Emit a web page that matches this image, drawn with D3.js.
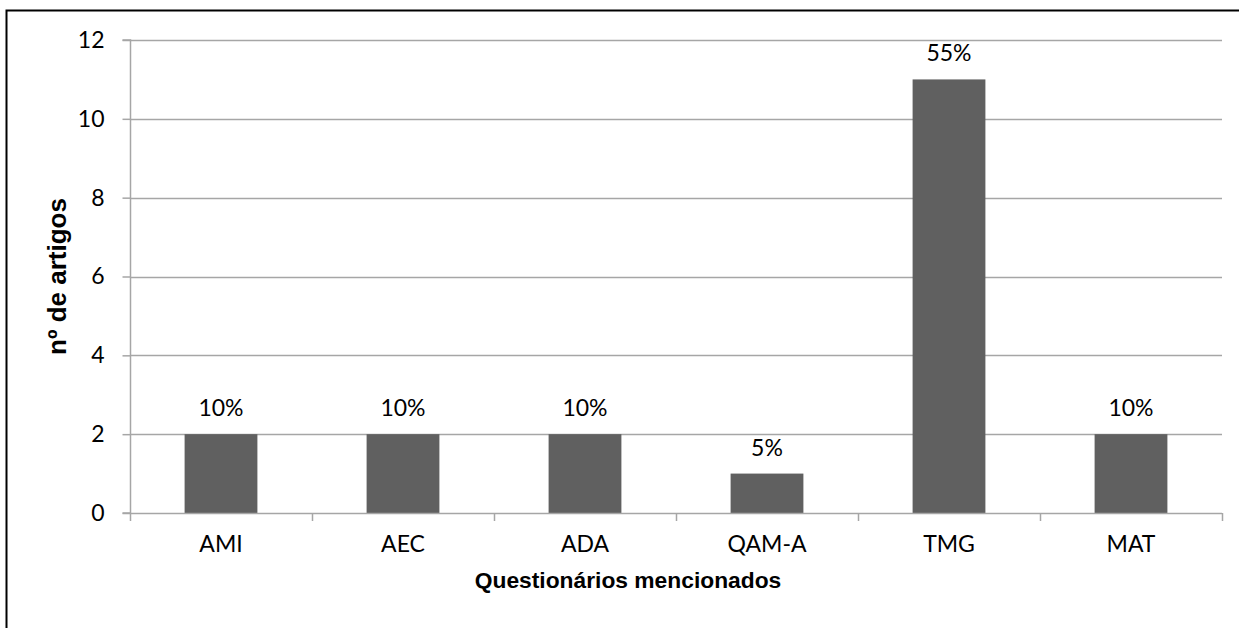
<!DOCTYPE html>
<html>
<head>
<meta charset="utf-8">
<script src="https://cdn.jsdelivr.net/npm/d3@7"></script>
<style>
  html, body { margin: 0; padding: 0; background: #fff; }
  svg { display: block; }
</style>
</head>
<body>
<svg id="chart" width="1239" height="628"></svg>
<script>
const categories = ["AMI", "AEC", "ADA", "QAM-A", "TMG", "MAT"];
const values = [2, 2, 2, 1, 11, 2];
const percentLabels = ["10%", "10%", "10%", "5%", "55%", "10%"];
const yTicks = [0, 2, 4, 6, 8, 10, 12];
const xTitle = "Questionários mencionados";
const yTitle = "nº de artigos";

const svg = d3.select("#chart");
const W = 1239, H = 628;
const plot = { left: 130, right: 1222, top: 40, bottom: 513 };

svg.append("rect").attr("x", 0).attr("y", 0).attr("width", W).attr("height", H).attr("fill", "#fff");
// outer frame (right/bottom edges fall outside view)
svg.append("rect").attr("x", 6.5).attr("y", 10.5).attr("width", 1400).attr("height", 800)
  .attr("fill", "none").attr("stroke", "#000").attr("stroke-width", 2);

const x = d3.scaleBand().domain(categories).range([plot.left, plot.right]).paddingInner(0.6).paddingOuter(0.3);
const y = d3.scaleLinear().domain([0, 12]).range([plot.bottom, plot.top]);

const gridColor = "#a6a6a6";
const font = "Lato, Carlito, Calibri, sans-serif";
const fs = 23;

// gridlines
svg.append("g").selectAll("line").data(yTicks.filter(d => d > 0)).join("line")
  .attr("x1", plot.left).attr("x2", plot.right)
  .attr("y1", d => Math.round(y(d)) + 0.5).attr("y2", d => Math.round(y(d)) + 0.5)
  .attr("stroke", gridColor).attr("stroke-width", 1.5);

// bars
svg.append("g").selectAll("rect").data(values).join("rect")
  .attr("x", (d, i) => x(categories[i]))
  .attr("width", x.bandwidth())
  .attr("y", d => y(d))
  .attr("height", d => y(0) - y(d))
  .attr("fill", "#606060");

// y axis
const yAxis = d3.axisLeft(y).tickValues(yTicks).tickSize(8).tickPadding(18).tickFormat(d3.format("d"));
const gy = svg.append("g").attr("transform", `translate(${plot.left + 0.5},0)`).call(yAxis);
gy.select(".domain").attr("stroke", gridColor).attr("stroke-width", 1.5).attr("d", `M-8,${plot.top}H0V${plot.bottom}H-8`);
gy.selectAll(".tick line").attr("stroke", gridColor).attr("stroke-width", 1.5);
gy.selectAll(".tick text").attr("font-family", font).attr("font-size", fs).attr("fill", "#000");

// x axis
const xAxis = d3.axisBottom(x).tickSize(0).tickPadding(22);
const gx = svg.append("g").attr("transform", `translate(0,${plot.bottom + 0.5})`).call(xAxis);
gx.select(".domain").remove();
gx.selectAll(".tick text").attr("font-family", font).attr("font-size", fs).attr("fill", "#000");
// x axis baseline + ticks at band boundaries
const bounds = d3.range(categories.length + 1).map(i => plot.left + i * (plot.right - plot.left) / categories.length);
svg.append("line").attr("x1", plot.left).attr("x2", plot.right)
  .attr("y1", plot.bottom + 0.5).attr("y2", plot.bottom + 0.5)
  .attr("stroke", gridColor).attr("stroke-width", 1.5);
svg.append("g").selectAll("line").data(bounds).join("line")
  .attr("x1", d => Math.round(d) + 0.5).attr("x2", d => Math.round(d) + 0.5)
  .attr("y1", plot.bottom).attr("y2", plot.bottom + 8)
  .attr("stroke", gridColor).attr("stroke-width", 1.5);

// data labels
svg.append("g").selectAll("text").data(values).join("text")
  .attr("x", (d, i) => x(categories[i]) + x.bandwidth() / 2)
  .attr("y", d => y(d) - 18)
  .attr("text-anchor", "middle")
  .attr("font-family", font).attr("font-size", fs).attr("fill", "#000")
  .text((d, i) => percentLabels[i]);

// axis titles
svg.append("text").attr("x", 628).attr("y", 588)
  .attr("text-anchor", "middle").attr("font-family", "Liberation Sans, Arial, sans-serif")
  .attr("font-weight", "bold").attr("font-size", 22.8).attr("fill", "#000").text(xTitle);
svg.append("text").attr("transform", `translate(66,${(plot.top + plot.bottom) / 2}) rotate(-90)`)
  .attr("text-anchor", "middle").attr("font-family", "Liberation Sans, Arial, sans-serif")
  .attr("font-weight", "bold").attr("font-size", 26).attr("fill", "#000").text(yTitle);
</script>
</body>
</html>
